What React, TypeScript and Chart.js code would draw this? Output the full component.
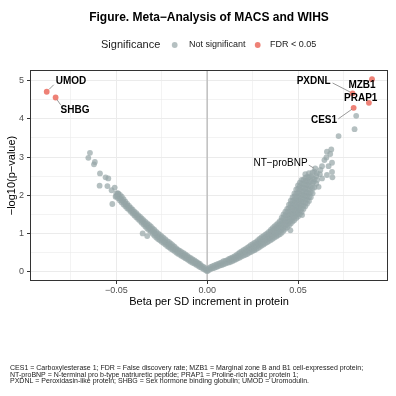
import { useEffect, useRef } from "react";
import { Chart, registerables } from "chart.js";

Chart.register(...registerables);

const FONT = "'Liberation Sans', Arial, sans-serif";

const TITLE = "Figure. Meta\u2212Analysis of MACS and WIHS";
const X_TITLE = "Beta per SD increment in protein";
const Y_TITLE = "\u2212log10(p\u2212value)";
const LEGEND_TITLE = "Significance";
const LEGEND_ITEMS = ["Not significant", "FDR < 0.05"];
const FOOTNOTE = [
  "CES1 = Carboxylesterase 1; FDR = False discovery rate; MZB1 = Marginal zone B and B1 cell-expressed protein;",
  "NT-proBNP = N-terminal pro b-type natriuretic peptide; PRAP1 = Proline-rich acidic protein 1;",
  "PXDNL = Peroxidasin-like protein; SHBG = Sex hormone binding globulin; UMOD = Uromodulin.",
];

const X_MIN = -0.0975;
const X_MAX = 0.0995;
const Y_MIN = -0.247;
const Y_MAX = 5.28;
const X_STEP = 0.025;
const X_MAJOR_STEP = 0.05;
const Y_STEP = 0.5;

// Significant proteins (FDR < 0.05)
const sigNames = ["UMOD", "SHBG", "MZB1", "PXDNL", "PRAP1", "CES1"];
const sigBeta = [-0.0883, -0.0834, 0.0907, 0.08, 0.089, 0.0806];
const sigLogP = [4.71, 4.56, 5.04, 4.67, 4.42, 4.29];

// Annotated non-significant protein
const nsLabelName = "NT\u2212proBNP";
const nsLabelBeta = 0.0595;
const nsLabelLogP = 2.7;

// Dense band of non-significant proteins, positive betas: [beta, logP values]
const rightBand: [number, number[]][] = [
  [0.0, [0.01, 0.05]],
  [0.001, [0.04, 0.09]],
  [0.002, [0.07, 0.12]],
  [0.003, [0.09, 0.14]],
  [0.004, [0.1, 0.16]],
  [0.005, [0.12, 0.18]],
  [0.006, [0.14, 0.2]],
  [0.007, [0.16, 0.22]],
  [0.008, [0.17, 0.24]],
  [0.009, [0.19, 0.27]],
  [0.01, [0.21, 0.28]],
  [0.011, [0.23, 0.3]],
  [0.012, [0.24, 0.29, 0.33]],
  [0.013, [0.26, 0.31, 0.35]],
  [0.014, [0.28, 0.33, 0.37]],
  [0.015, [0.3, 0.35, 0.4]],
  [0.016, [0.32, 0.38, 0.43]],
  [0.017, [0.35, 0.41, 0.46]],
  [0.018, [0.37, 0.43, 0.5]],
  [0.019, [0.4, 0.47, 0.53]],
  [0.02, [0.42, 0.49, 0.56]],
  [0.021, [0.44, 0.51, 0.59]],
  [0.022, [0.46, 0.54, 0.62]],
  [0.023, [0.49, 0.57, 0.65]],
  [0.024, [0.51, 0.6, 0.69]],
  [0.025, [0.54, 0.6, 0.66, 0.72]],
  [0.026, [0.56, 0.62, 0.69, 0.75]],
  [0.027, [0.59, 0.66, 0.72, 0.78]],
  [0.028, [0.62, 0.69, 0.75, 0.82]],
  [0.029, [0.65, 0.72, 0.79, 0.86]],
  [0.03, [0.68, 0.75, 0.82, 0.9]],
  [0.031, [0.71, 0.78, 0.86, 0.93]],
  [0.032, [0.74, 0.82, 0.89, 0.97]],
  [0.033, [0.77, 0.85, 0.93, 1.0]],
  [0.034, [0.8, 0.88, 0.96, 1.04]],
  [0.035, [0.83, 0.9, 0.97, 1.04, 1.09]],
  [0.036, [0.86, 0.93, 1.0, 1.07, 1.14]],
  [0.037, [0.89, 0.96, 1.04, 1.11, 1.18]],
  [0.038, [0.92, 0.99, 1.07, 1.15, 1.22]],
  [0.039, [0.95, 1.03, 1.11, 1.19, 1.27]],
  [0.04, [0.98, 1.06, 1.15, 1.23, 1.32]],
  [0.041, [1.02, 1.1, 1.18, 1.26, 1.34, 1.41]],
  [0.042, [1.07, 1.15, 1.24, 1.33, 1.42, 1.5]],
  [0.043, [1.12, 1.21, 1.3, 1.39, 1.48, 1.57]],
  [0.044, [1.16, 1.24, 1.32, 1.4, 1.48, 1.56, 1.64]],
  [0.045, [1.21, 1.3, 1.39, 1.48, 1.57, 1.66, 1.75]],
  [0.046, [1.26, 1.34, 1.43, 1.51, 1.6, 1.69, 1.77, 1.86]],
  [0.047, [1.31, 1.4, 1.49, 1.58, 1.67, 1.76, 1.85, 1.95]],
  [0.048, [1.35, 1.44, 1.53, 1.62, 1.71, 1.8, 1.88, 1.97, 2.05]],
  [0.049, [1.4, 1.49, 1.58, 1.67, 1.76, 1.85, 1.94, 2.04, 2.15]],
  [0.05, [1.44, 1.53, 1.62, 1.71, 1.8, 1.89, 1.98, 2.07, 2.17, 2.26]],
  [0.051, [1.5, 1.59, 1.68, 1.77, 1.86, 1.95, 2.05, 2.15, 2.24, 2.33]],
  [0.052, [1.56, 1.65, 1.74, 1.83, 1.92, 2.01, 2.1, 2.2, 2.3, 2.4]],
  [0.053, [1.64, 1.73, 1.82, 1.91, 2.0, 2.1, 2.2, 2.3, 2.4]],
  [0.054, [1.71, 1.8, 1.89, 1.98, 2.07, 2.17, 2.27, 2.37, 2.46, 2.55]],
  [0.055, [1.78, 1.88, 1.98, 2.08, 2.18, 2.28, 2.38, 2.48]],
  [0.056, [1.85, 1.95, 2.05, 2.15, 2.25, 2.35, 2.47, 2.58]],
  [0.057, [1.95, 2.08, 2.22, 2.36, 2.5]],
  [0.058, [2.05, 2.18, 2.32, 2.46, 2.6]],
  [0.059, [2.2, 2.42, 2.62]],
  [0.06, [2.3, 2.5]],
];

// Dense band of non-significant proteins, negative betas: [beta, logP values]
const leftBand: [number, number[]][] = [
  [-0.001, [0.04, 0.09]],
  [-0.002, [0.07, 0.12]],
  [-0.003, [0.1, 0.15]],
  [-0.004, [0.12, 0.17, 0.2]],
  [-0.005, [0.15, 0.2, 0.23]],
  [-0.006, [0.18, 0.22, 0.26]],
  [-0.007, [0.21, 0.25, 0.29]],
  [-0.008, [0.23, 0.28, 0.32]],
  [-0.009, [0.26, 0.31, 0.35]],
  [-0.01, [0.29, 0.34, 0.38]],
  [-0.011, [0.32, 0.37, 0.42]],
  [-0.012, [0.35, 0.4, 0.45]],
  [-0.013, [0.38, 0.43, 0.48]],
  [-0.014, [0.41, 0.46, 0.51]],
  [-0.015, [0.44, 0.49, 0.54]],
  [-0.016, [0.47, 0.52, 0.57]],
  [-0.017, [0.5, 0.56, 0.61]],
  [-0.018, [0.54, 0.59, 0.65]],
  [-0.019, [0.57, 0.63, 0.69]],
  [-0.02, [0.6, 0.66, 0.73]],
  [-0.021, [0.64, 0.7, 0.77]],
  [-0.022, [0.67, 0.74, 0.8]],
  [-0.023, [0.71, 0.77, 0.84]],
  [-0.024, [0.75, 0.81, 0.88]],
  [-0.025, [0.78, 0.85, 0.92]],
  [-0.026, [0.82, 0.89, 0.96]],
  [-0.027, [0.85, 0.92, 1.0]],
  [-0.028, [0.89, 0.96, 1.04]],
  [-0.029, [0.94, 1.01, 1.09]],
  [-0.03, [0.99, 1.06, 1.13]],
  [-0.031, [1.04, 1.11, 1.18]],
  [-0.032, [1.09, 1.16, 1.22]],
  [-0.033, [1.13, 1.2, 1.26]],
  [-0.034, [1.18, 1.24, 1.3]],
  [-0.035, [1.23, 1.29, 1.35]],
  [-0.036, [1.28, 1.34, 1.39]],
  [-0.037, [1.33, 1.39, 1.44]],
  [-0.038, [1.38, 1.43, 1.48]],
  [-0.039, [1.42, 1.48, 1.53]],
  [-0.04, [1.47, 1.52, 1.57]],
  [-0.041, [1.52, 1.57, 1.62]],
  [-0.042, [1.57, 1.62, 1.67]],
  [-0.043, [1.62, 1.67, 1.72]],
  [-0.044, [1.66, 1.72, 1.77]],
  [-0.045, [1.71, 1.77, 1.83]],
  [-0.046, [1.76, 1.83, 1.9]],
  [-0.047, [1.81, 1.88, 1.96]],
  [-0.048, [1.86, 1.93, 2.01]],
  [-0.049, [1.92, 1.99, 2.05]],
  [-0.05, [1.98, 2.05]],
];

// Scattered non-significant proteins
const outlierBeta = [
  -0.0645, -0.0654, -0.0618, -0.0623, -0.059, -0.0559, -0.0544, -0.0592, -0.0549, -0.0526,
  -0.0509, -0.0522, -0.0491, -0.0504, -0.0355, -0.033,
  0.082, 0.0811, 0.0723, 0.0683, 0.0659, 0.0677, 0.0656, 0.0645, 0.0687, 0.0668,
  0.0632, 0.0687, 0.0659, 0.0689, 0.0623, 0.0604, 0.0632, 0.0586, 0.0613, 0.0458,
  0.0522, 0.062, 0.0605,
];
const outlierLogP = [
  3.11, 2.98, 2.87, 2.81, 2.57, 2.47, 2.44, 2.25, 2.24, 2.13,
  2.2, 1.77, 2.05, 1.96, 1.0, 0.93,
  4.08, 3.73, 3.55, 3.2, 3.14, 3.08, 2.99, 2.92, 2.85, 2.76,
  2.76, 2.61, 2.53, 2.47, 2.66, 2.57, 2.44, 2.35, 2.22, 1.08,
  1.48, 2.55, 2.4,
];

// Label placement styling (pixel offsets from the point)
const labelStyle: Record<string, { dx: number; dy: number; align: CanvasTextAlign; bold: boolean; seg?: [number, number, number, number] }> = {
  UMOD: { dx: 9, dy: -10.3, align: "left", bold: true, seg: [2.5, -2.5, 7, -7] },
  SHBG: { dx: 5, dy: 12.3, align: "left", bold: true, seg: [1.5, 2.3, 5, 7.3] },
  MZB1: { dx: -10, dy: 6, align: "center", bold: true },
  PXDNL: { dx: -22, dy: -11.6, align: "right", bold: true, seg: [-20, -10.3, -2.5, -1.3] },
  PRAP1: { dx: -8.2, dy: -4.7, align: "center", bold: true },
  CES1: { dx: -16.6, dy: 12.7, align: "right", bold: true, seg: [-15.3, 11, -1.8, 1.5] },
  [nsLabelName]: { dx: -7.7, dy: -5.1, align: "right", bold: false, seg: [-6.5, -3.4, -1.5, -0.4] },
};

const GRAY = "rgba(149,165,166,0.7)";
const RED = "rgba(231,76,60,0.7)";

const isMajor = (v: number, step: number) => Math.abs(Math.round(v / step) * step - v) < 1e-9;

const overlay = {
  id: "overlay",
  beforeDatasetsDraw(chart: any) {
    const { ctx, chartArea } = chart;
    const x0 = chart.scales.x.getPixelForValue(0);
    ctx.save();
    ctx.strokeStyle = "#C2C2C2";
    ctx.lineWidth = 1.6;
    ctx.beginPath();
    ctx.moveTo(x0, chartArea.top);
    ctx.lineTo(x0, chartArea.bottom);
    ctx.stroke();
    ctx.restore();
  },
  afterDatasetsDraw(chart: any) {
    const { ctx } = chart;
    const xs = chart.scales.x;
    const ys = chart.scales.y;
    const items = sigNames.map((n, i) => ({ n, b: sigBeta[i], p: sigLogP[i] }));
    items.push({ n: nsLabelName, b: nsLabelBeta, p: nsLabelLogP });
    ctx.save();
    items.forEach(({ n, b, p }) => {
      const st = labelStyle[n];
      const px = xs.getPixelForValue(b);
      const py = ys.getPixelForValue(p);
      if (st.seg) {
        ctx.strokeStyle = "#6E6E6E";
        ctx.lineWidth = 0.7;
        ctx.beginPath();
        ctx.moveTo(px + st.seg[0], py + st.seg[1]);
        ctx.lineTo(px + st.seg[2], py + st.seg[3]);
        ctx.stroke();
      }
      ctx.fillStyle = "#000";
      ctx.font = `${st.bold ? "bold " : ""}10px ${FONT}`;
      ctx.textAlign = st.align;
      ctx.textBaseline = "middle";
      ctx.fillText(n, px + st.dx, py + st.dy);
    });
    ctx.restore();
  },
  afterDraw(chart: any) {
    const { ctx, chartArea } = chart;
    ctx.save();
    // panel border
    ctx.strokeStyle = "#333333";
    ctx.lineWidth = 1;
    ctx.strokeRect(Math.round(chartArea.left) + 0.5, Math.round(chartArea.top) + 0.5,
      Math.round(chartArea.right - chartArea.left) - 1, Math.round(chartArea.bottom - chartArea.top) - 1);
    // title
    ctx.fillStyle = "#000";
    ctx.font = `bold 12px ${FONT}`;
    ctx.textAlign = "center";
    ctx.textBaseline = "middle";
    ctx.fillText(TITLE, 209, 18);
    // legend
    ctx.font = `11px ${FONT}`;
    ctx.textAlign = "left";
    ctx.fillStyle = "#1A1A1A";
    ctx.fillText(LEGEND_TITLE, 101, 45);
    const legendColors = [GRAY, RED];
    const dotX = [174.7, 257.7];
    const textX = [189, 270];
    ctx.font = `9px ${FONT}`;
    LEGEND_ITEMS.forEach((t, i) => {
      ctx.fillStyle = legendColors[i];
      ctx.beginPath();
      ctx.arc(dotX[i], 45, 2.9, 0, Math.PI * 2);
      ctx.fill();
      ctx.fillStyle = "#1A1A1A";
      ctx.fillText(t, textX[i], 45);
    });
    // footnote
    ctx.font = `7px ${FONT}`;
    ctx.fillStyle = "#1A1A1A";
    const fy = [368.3, 375, 380.9];
    FOOTNOTE.forEach((t, i) => ctx.fillText(t, 10, fy[i]));
    ctx.restore();
  },
};

export default function App() {
  const ref = useRef<HTMLCanvasElement>(null);
  useEffect(() => {
    if (!ref.current) return;
    const nsPoints = [
      ...leftBand.flatMap(([b, ps]) => ps.map((p) => ({ x: b, y: p }))),
      ...rightBand.flatMap(([b, ps]) => ps.map((p) => ({ x: b, y: p }))),
      ...outlierBeta.map((b, i) => ({ x: b, y: outlierLogP[i] })),
      { x: nsLabelBeta, y: nsLabelLogP },
    ];
    const sigPoints = sigBeta.map((b, i) => ({ x: b, y: sigLogP[i] }));
    const gridColor = "#EBEBEB";
    const chart = new Chart(ref.current, {
      type: "scatter",
      data: {
        datasets: [
          { label: LEGEND_ITEMS[0], data: nsPoints, backgroundColor: GRAY, borderWidth: 0, pointRadius: 2.9, pointHoverRadius: 2.9 },
          { label: LEGEND_ITEMS[1], data: sigPoints, backgroundColor: RED, borderWidth: 0, pointRadius: 2.9, pointHoverRadius: 2.9 },
        ],
      },
      options: {
        animation: false,
        responsive: false,
        devicePixelRatio: 1,
        events: [],
        layout: { padding: { top: 70, left: 0, right: 8, bottom: 85 } },
        plugins: { legend: { display: false }, tooltip: { enabled: false }, title: { display: false } },
        scales: {
          x: {
            type: "linear",
            min: X_MIN,
            max: X_MAX,
            afterFit: (s: any) => { s.height = 30; },
            ticks: {
              stepSize: X_STEP,
              includeBounds: false,
              autoSkip: false,
              maxRotation: 0,
              color: "#4D4D4D",
              font: { family: FONT, size: 9 },
              padding: 1,
              callback: (v: any) => {
                const n = Number(v);
                if (!isMajor(n, X_MAJOR_STEP)) return "";
                const s = Math.abs(n).toFixed(2);
                return n < -1e-9 ? "\u2212" + s : s;
              },
            },
            grid: {
              color: gridColor,
              lineWidth: (c: any) => (c.tick && isMajor(c.tick.value, X_MAJOR_STEP) ? 1 : 0.6),
              drawTicks: true,
              tickLength: 3,
              tickColor: (c: any) => (c.tick && isMajor(c.tick.value, X_MAJOR_STEP) ? "#333333" : "rgba(0,0,0,0)"),
              tickWidth: 1,
            },
            border: { display: false },
            title: { display: true, text: X_TITLE, color: "#000", font: { family: FONT, size: 11 }, padding: { top: 0, bottom: 2 } },
          },
          y: {
            type: "linear",
            min: Y_MIN,
            max: Y_MAX,
            afterFit: (s: any) => { s.width = 30; },
            ticks: {
              stepSize: Y_STEP,
              includeBounds: false,
              autoSkip: false,
              color: "#4D4D4D",
              font: { family: FONT, size: 9 },
              padding: 3,
              callback: (v: any) => (isMajor(Number(v), 1) ? String(Math.round(Number(v))) : ""),
            },
            grid: {
              color: gridColor,
              lineWidth: (c: any) => (c.tick && isMajor(c.tick.value, 1) ? 1 : 0.6),
              drawTicks: true,
              tickLength: 3,
              tickColor: (c: any) => (c.tick && isMajor(c.tick.value, 1) ? "#333333" : "rgba(0,0,0,0)"),
              tickWidth: 1,
            },
            border: { display: false },
            title: { display: true, text: Y_TITLE, color: "#000", font: { family: FONT, size: 11 }, padding: { top: 5, bottom: 0 } },
          },
        },
      },
      plugins: [overlay],
    });
    return () => chart.destroy();
  }, []);
  return (
    <div style={{ position: "absolute", left: 0, top: 0, width: 396, height: 396, background: "#fff" }}>
      <canvas ref={ref} width={396} height={396} style={{ width: 396, height: 396, display: "block" }} />
    </div>
  );
}
